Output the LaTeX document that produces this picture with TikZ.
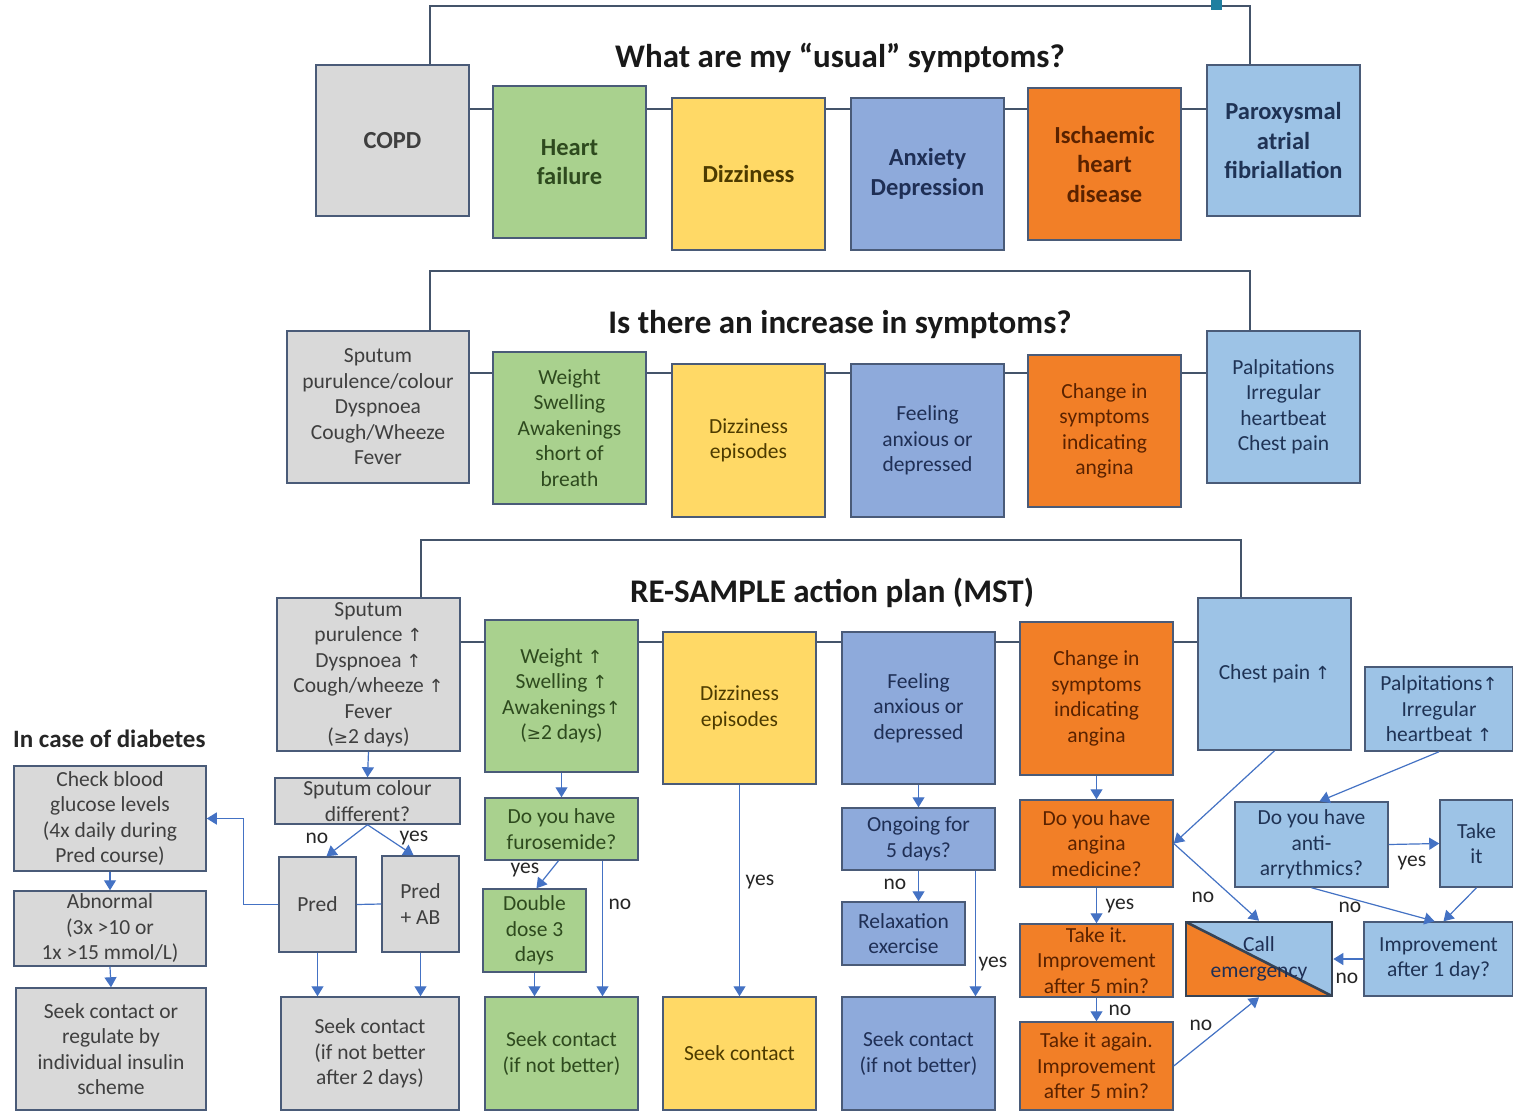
\documentclass[tikz,border=0pt]{standalone}
\usepackage{fontspec}
\setmainfont{Carlito}
\newfontfamily\dv{DejaVu Sans}
\usetikzlibrary{arrows.meta}
\definecolor{fgray}{HTML}{D9D9D9}
\definecolor{fgreen}{HTML}{A9D18E}
\definecolor{fyellow}{HTML}{FFD966}
\definecolor{fblue}{HTML}{8EAADB}
\definecolor{forange}{HTML}{F27F27}
\definecolor{flight}{HTML}{9DC3E6}
\definecolor{tgray}{HTML}{3F3F3F}
\definecolor{tgreen}{HTML}{2E4A1E}
\definecolor{tyellow}{HTML}{4D3B00}
\definecolor{tblue}{HTML}{1F2F55}
\definecolor{torange}{HTML}{5A2200}
\definecolor{tlight}{HTML}{1F3355}
\definecolor{bordc}{HTML}{4A5B78}
\definecolor{linkc}{HTML}{44546A}
\definecolor{arrc}{HTML}{4472C4}
\definecolor{tealc}{HTML}{1F7FA0}
\newcommand\uparr{{\dv\fontsize{18}{25}\selectfont ↑}}
\newcommand\gesym{{\dv\fontsize{17}{25}\selectfont ≥}}
\newcommand\bx[7]{\node[#6, minimum width={(#4-#2)*1pt}, minimum height={(#5-#3)*1pt}] (#1) at ({(#2+#4)/2},{(#3+#5)/2}) {#7};}
\tikzset{
  x={(1pt,0)}, y={(0,-1pt)},
  basebox/.style={draw=bordc, line width=1.5pt, align=center, inner sep=1pt, font=\fontsize{21.5}{25.5}\selectfont},
  boxgray/.style={basebox, fill=fgray, text=tgray},
  boxgreen/.style={basebox, fill=fgreen, text=tgreen},
  boxyellow/.style={basebox, fill=fyellow, text=tyellow},
  boxblue/.style={basebox, fill=fblue, text=tblue},
  boxorange/.style={basebox, fill=forange, text=torange},
  boxlight/.style={basebox, fill=flight, text=tlight},
  topfont/.style={font=\fontsize{24.5}{29.5}\selectfont\bfseries},
  link/.style={draw=linkc, line width=1.5pt},
  arr/.style={draw=arrc, line width=1.2pt, -{Triangle[width=12pt,length=10pt]}},
  lab/.style={font=\fontsize{21.5}{24}\selectfont, text=black!85, inner sep=0pt},
  title/.style={font=\fontsize{33}{38}\selectfont\bfseries, text=black!90, inner sep=0pt},
}
\begin{document}
\begin{tikzpicture}
\useasboundingbox (0,0) rectangle (1513,1111);
\fill[white] (0,0) rectangle (1513,1111);

% ---------- Section 1 ----------
\coordinate (f1l) at (430,6);
\coordinate (f1r) at (1250,6);
\bx{copd}{316}{65}{469}{216}{boxgray,topfont}{COPD}
\bx{hf}{493}{86}{646}{238}{boxgreen,topfont}{Heart\\failure}
\bx{diz1}{672}{98}{825}{250}{boxyellow,topfont}{Dizziness}
\bx{anx1}{851}{98}{1004}{250}{boxblue,topfont}{Anxiety\\Depression}
\bx{ihd}{1028}{88}{1181}{240}{boxorange,topfont}{Ischaemic\\heart\\disease}
\bx{paf}{1207}{65}{1360}{216}{boxlight,topfont}{Paroxysmal\\atrial\\fibriallation}
\draw[link] (f1l |- copd.north) -- (f1l) -- (f1r) -- (f1r |- paf.north);
\fill[tealc] (1211,0) rectangle (1222,10);
\node[title] (t1) at (840,58) {What are my “usual” symptoms?};
\coordinate (r1) at (0,109);
\draw[link] (copd.east |- r1) -- (hf.west |- r1);
\draw[link] (hf.east |- r1) -- (diz1.west |- r1);
\draw[link] (diz1.east |- r1) -- (anx1.west |- r1);
\draw[link] (anx1.east |- r1) -- (ihd.west |- r1);
\draw[link] (ihd.east |- r1) -- (paf.west |- r1);

% ---------- Section 2 ----------
\coordinate (f2l) at (430,271);
\coordinate (f2r) at (1250,271);
\bx{spu2}{287}{331}{469}{483}{boxgray}{Sputum\\purulence/colour\\Dyspnoea\\Cough/Wheeze\\Fever}
\bx{wt2}{493}{352}{646}{504}{boxgreen}{Weight\\Swelling\\Awakenings\\short of\\breath}
\bx{diz2}{672}{364}{825}{517}{boxyellow}{Dizziness\\episodes}
\bx{anx2}{851}{364}{1004}{517}{boxblue}{Feeling\\anxious or\\depressed}
\bx{chg2}{1028}{355}{1181}{507}{boxorange}{Change in\\symptoms\\indicating\\angina}
\bx{pal2}{1207}{331}{1360}{483}{boxlight}{Palpitations\\Irregular\\heartbeat\\Chest pain}
\draw[link] (f2l |- spu2.north) -- (f2l) -- (f2r) -- (f2r |- pal2.north);
\node[title] (t2) at (840,325) {Is there an increase in symptoms?};
\coordinate (r2) at (0,373);
\draw[link] (spu2.east |- r2) -- (wt2.west |- r2);
\draw[link] (wt2.east |- r2) -- (diz2.west |- r2);
\draw[link] (diz2.east |- r2) -- (anx2.west |- r2);
\draw[link] (anx2.east |- r2) -- (chg2.west |- r2);
\draw[link] (chg2.east |- r2) -- (pal2.west |- r2);

% ---------- Section 3 ----------
\coordinate (f3l) at (421,540);
\coordinate (f3r) at (1241,540);
\bx{spu3}{277}{598}{460}{751}{boxgray}{Sputum\\purulence \uparr\\Dyspnoea \uparr\\Cough/wheeze \uparr\\Fever\\(\gesym2 days)}
\bx{wt3}{485}{620}{638}{772}{boxgreen}{Weight \uparr\\Swelling \uparr\\Awakenings\uparr\\(\gesym2 days)}
\bx{diz3}{663}{632}{816}{784}{boxyellow}{Dizziness\\episodes}
\bx{anx3}{842}{632}{995}{784}{boxblue}{Feeling\\anxious or\\depressed}
\bx{chg3}{1020}{622}{1173}{775}{boxorange}{Change in\\symptoms\\indicating\\angina}
\bx{chest}{1198}{598}{1351}{750}{boxlight}{Chest pain \uparr}
\bx{pal3}{1365}{667}{1513}{751}{boxlight}{Palpitations\uparr\\Irregular\\heartbeat \uparr}
\draw[link] (f3l |- spu3.north) -- (f3l) -- (f3r) -- (f3r |- chest.north);
\node[title] (t3) at (832,593) {RE-SAMPLE action plan (MST)};
\coordinate (r3) at (0,642);
\draw[link] (spu3.east |- r3) -- (wt3.west |- r3);
\draw[link] (wt3.east |- r3) -- (diz3.west |- r3);
\draw[link] (diz3.east |- r3) -- (anx3.west |- r3);
\draw[link] (anx3.east |- r3) -- (chg3.west |- r3);
\draw[link] (chg3.east |- r3) -- (chest.west |- r3);

% ---------- Diabetes ----------
\node[font=\fontsize{25}{28}\selectfont\bfseries, text=black!85, anchor=west, inner sep=0pt] (diab) at (13,739) {In case of diabetes};
\bx{check}{14}{766}{206}{871}{boxgray}{Check blood\\glucose levels\\(4x daily during\\Pred course)}
\bx{abn}{14}{891}{206}{966}{boxgray}{Abnormal\\(3x >10 or\\1x >15 mmol/L)}
\bx{regul}{16}{988}{206}{1110}{boxgray}{Seek contact or\\regulate by\\individual insulin\\scheme}
\draw[arr] (check.south) -- (abn.north);
\draw[arr] (abn.south) -- (regul.north);

% ---------- COPD column ----------
\bx{scd}{275}{778}{460}{824}{boxgray}{Sputum colour\\different?}
\bx{pred}{279}{857}{356}{952}{boxgray}{Pred}
\bx{pab}{382}{856}{459}{952}{boxgray}{Pred\\+ AB}
\bx{sc1}{281}{997}{459}{1110}{boxgray}{Seek contact\\(if not better\\after 2 days)}
\draw[arr] (spu3.south) -- (scd.north);
\draw[arr] (scd.south) -- ([xshift=9]pred.north);
\draw[arr] (scd.south) -- ([xshift=-7]pab.north);
\draw[draw=arrc, line width=1.2pt] (pred.east) -- (pab.west);
\draw[arr] (pred.west) -- ++(-35,0) |- (check.east);
\draw[arr] (pred.south) -- (pred.south |- sc1.north);
\draw[arr] (pab.south) -- (pab.south |- sc1.north);
\node[lab] (l1) at (317,838) {no};
\node[lab] (l2) at (414,838) {yes};

% ---------- Heart failure column ----------
\bx{furo}{485}{798}{638}{860}{boxgreen}{Do you have\\furosemide?}
\bx{dbl}{483}{889}{586}{972}{boxgreen}{Double\\dose 3\\days}
\bx{sc2}{485}{997}{638}{1110}{boxgreen}{Seek contact\\(if not better)}
\draw[arr] (wt3.south) -- (furo.north);
\draw[arr] ([xshift=-3]furo.south) -- ([xshift=2]dbl.north);
\draw[arr] ([xshift=41]furo.south) -- ([xshift=41]furo.south |- sc2.north);
\draw[arr] (dbl.south) -- (dbl.south |- sc2.north);
\node[lab] (l3) at (525,870) {yes};
\node[lab] (l4) at (620,904) {no};

% ---------- Dizziness column ----------
\bx{sc3}{663}{997}{816}{1110}{boxyellow}{Seek contact}
\draw[arr] (diz3.south) -- (sc3.north);
\node[lab] (l5) at (760,882) {yes};

% ---------- Anxiety column ----------
\bx{ongo}{842}{808}{995}{870}{boxblue}{Ongoing for\\5 days?}
\bx{relax}{842}{902}{965}{965}{boxblue}{Relaxation\\exercise}
\bx{sc4}{842}{997}{995}{1110}{boxblue}{Seek contact\\(if not better)}
\draw[arr] (anx3.south) -- (ongo.north);
\draw[arr] (ongo.south) -- (ongo.south |- relax.north);
\draw[arr] ([xshift=57]ongo.south) -- ([xshift=57]ongo.south |- sc4.north);
\node[lab] (l6) at (895,884) {no};
\node[lab] (l7) at (993,964) {yes};

% ---------- Angina column ----------
\bx{ang}{1020}{800}{1173}{887}{boxorange}{Do you have\\angina\\medicine?}
\bx{ti}{1020}{924}{1173}{997}{boxorange}{Take it.\\Improvement\\after 5 min?}
\bx{tia}{1020}{1022}{1173}{1110}{boxorange}{Take it again.\\Improvement\\after 5 min?}
\draw[arr] (chg3.south) -- (ang.north);
\draw[arr] (ang.south) -- (ti.north);
\draw[arr] (ti.south) -- (tia.north);
\node[lab] (l8) at (1120,906) {yes};
\node[lab] (l9) at (1120,1010) {no};

% ---------- Call emergency ----------
\node[draw=linkc!80!black, line width=2.6pt, minimum width=146pt, minimum height=74pt,
  font=\fontsize{21.5}{25.5}\selectfont, text=tblue, align=center, inner sep=0pt,
  path picture={
    \fill[forange] (path picture bounding box.north west) -- (path picture bounding box.south east) -- (path picture bounding box.south west) -- cycle;
    \fill[flight] (path picture bounding box.north west) -- (path picture bounding box.north east) -- (path picture bounding box.south east) -- cycle;
    \draw[linkc!80!black, line width=2.6pt] (path picture bounding box.north west) -- (path picture bounding box.south east);
  }] (call) at (1259,959) {Call\\emergency};

% ---------- Palpitations / chest pain ----------
\bx{anti}{1235}{802}{1388}{887}{boxlight}{Do you have\\anti-\\arrythmics?}
\bx{takeit}{1440}{800}{1513}{887}{boxlight}{Take\\it}
\bx{impr}{1364}{922}{1513}{996}{boxlight}{Improvement\\after 1 day?}
\draw[arr] (chest.south) -- (ang.east);
\draw[arr] (ang.east) -- (call.north);
\draw[arr] (tia.east) -- (call.south);
\draw[arr] (pal3.south) -- ([xshift=8]anti.north);
\draw[arr] (anti.east) -- (takeit.west);
\draw[arr] (takeit.south) -- ([xshift=5]impr.north);
\draw[arr] (anti.south) -- ([xshift=-4]impr.north);
\draw[arr] (impr.west) -- (call.east);
\node[lab] (l10) at (1203,897) {no};
\node[lab] (l11) at (1201,1025) {no};
\node[lab] (l12) at (1412,863) {yes};
\node[lab] (l13) at (1350,907) {no};
\node[lab] (l14) at (1347,978) {no};
\end{tikzpicture}
\end{document}
